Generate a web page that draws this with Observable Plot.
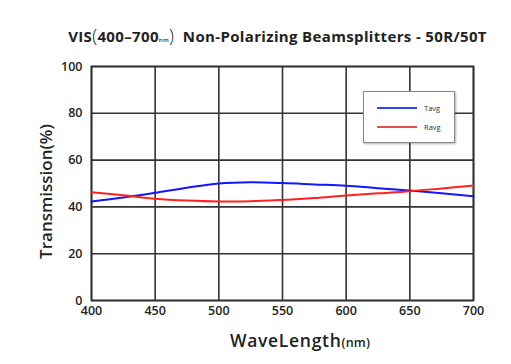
<!DOCTYPE html>
<html><head><meta charset="utf-8">
<script src="https://cdn.jsdelivr.net/npm/d3@7"></script>
<script src="https://cdn.jsdelivr.net/npm/@observablehq/plot@0.6"></script>
<style>
body{margin:0;background:#fff;font-family:"Open Sans",sans-serif;}
#wrap{position:relative;width:511px;height:364px;overflow:hidden;}
#title{position:absolute;left:0;top:23px;width:511px;text-align:center;font-size:15px;font-weight:700;color:#222;letter-spacing:0.35px;padding-left:44px;box-sizing:border-box;white-space:nowrap;}
#title small{font-size:6px;font-weight:600;}
#title .p{font-weight:300;font-size:18px;}
#chart{position:absolute;left:0;top:50px;}
#xlabel{position:absolute;left:150px;width:300px;text-align:center;top:328px;font-size:17.5px;font-weight:600;color:#222;letter-spacing:0.7px;}
#xlabel small{font-size:12.5px;letter-spacing:0.2px;}
#legend{position:absolute;left:363px;top:91px;width:92px;height:52px;border:1px solid #888;background:#fff;box-shadow:1px 1px 2px rgba(0,0,0,0.3);box-sizing:border-box;font-size:7.5px;color:#333;}
.lg{position:absolute;left:13px;display:flex;align-items:center;}
.lg span{display:inline-block;width:40px;height:2px;margin-right:7px;}
</style></head>
<body>
<div id="wrap">
  <div id="title">VIS<span class="p">(</span>400–700<small>nm</small><span class="p">)</span>&nbsp; Non-Polarizing Beamsplitters - 50R/50T</div>
  <div id="chart"></div>
  <div id="xlabel">WaveLength<small>(nm)</small></div>
  <div id="legend">
    <div class="lg" style="top:11px"><span style="background:#3344ee"></span>Tavg</div>
    <div class="lg" style="top:30px"><span style="background:#e05050"></span>Ravg</div>
  </div>
</div>
<script>
const wavelengths = [400,425,450,475,500,525,550,575,600,625,650,675,700];
const tavg = [42.3,44.0,46.0,48.2,50.0,50.5,50.2,49.6,49.0,48.0,47.0,45.8,44.6];
const ravg = [46.3,45.0,43.5,42.7,42.3,42.4,43.0,43.8,44.9,45.8,46.7,47.9,49.1];
const xTicks = [400,450,500,550,600,650,700];
const yTicks = [0,20,40,60,80,100];
const seriesNames = ["Tavg","Ravg"];

const data = [];
wavelengths.forEach((w,i)=>{
  data.push({wl:w, v:tavg[i], s:seriesNames[0]});
  data.push({wl:w, v:ravg[i], s:seriesNames[1]});
});

const plot = Plot.plot({
  width: 511,
  height: 314,
  marginTop: 16,
  marginBottom: 64,
  marginLeft: 91,
  marginRight: 38,
  style: {fontFamily: "Open Sans, sans-serif", fontSize: "12px", fontWeight: 600, color: "#222"},
  x: {domain: [400,700], ticks: xTicks},
  y: {domain: [0,100], ticks: yTicks},
  marks: [
    Plot.gridX(xTicks, {stroke: "#333", strokeOpacity: 1, strokeWidth: 1.6}),
    Plot.gridY(yTicks, {stroke: "#333", strokeOpacity: 1, strokeWidth: 1.6}),
    Plot.frame({stroke: "#333", strokeWidth: 1.8}),
    Plot.axisX(xTicks, {tickSize: 0, tickPadding: 6, label: null, fontSize: 12.5}),
    Plot.axisY(yTicks, {tickSize: 0, tickPadding: 9, label: null, fontSize: 12.5}),
    Plot.text(["Transmission(%)"], {frameAnchor: "left", textAnchor: "middle", dx: -45, dy: 8, rotate: -90, fontSize: 17, fontWeight: 600, fill: "#222", letterSpacing: 0.4}),
    Plot.line(data, {x: "wl", y: "v", stroke: "s", curve: "catmull-rom", strokeWidth: 2}),
  ],
  color: {domain: seriesNames, range: ["#1515ff", "#ff2020"]}
});
document.getElementById("chart").appendChild(plot);
</script>
</body></html>
